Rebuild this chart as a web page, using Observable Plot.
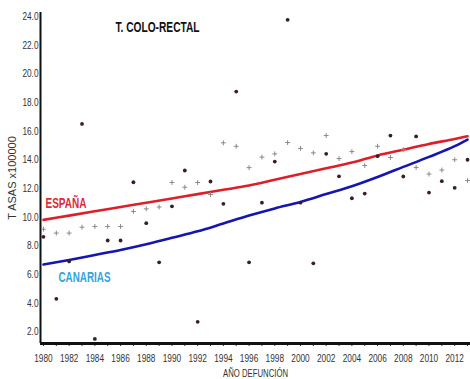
<!DOCTYPE html>
<html>
<head>
<meta charset="utf-8">
<script src="https://cdn.jsdelivr.net/npm/d3@7"></script>
<script src="https://cdn.jsdelivr.net/npm/@observablehq/plot@0.6"></script>
<style>
  html, body { margin: 0; padding: 0; background: #fff; }
  #chart svg { display: block; background: #fff; }
</style>
</head>
<body>
<div id="chart"></div>
<script>
// ---- data ----
const years = [1980,1981,1982,1983,1984,1985,1986,1987,1988,1989,1990,1991,1992,1993,1994,1995,1996,1997,1998,1999,2000,2001,2002,2003,2004,2005,2006,2007,2008,2009,2010,2011,2012,2013];
// Canarias observed rates (dark dots)
const canariasRates = [8.62,4.29,6.9,16.5,1.49,8.36,8.36,12.43,9.57,6.84,10.75,13.25,2.68,12.48,10.92,18.76,6.84,11.0,13.87,23.77,11.0,6.77,14.41,12.84,11.31,11.64,14.25,15.69,12.83,15.63,11.71,12.5,12.04,14.0];
// España observed rates (grey crosses)
const espanaRates = [9.15,8.88,8.88,9.29,9.34,9.34,9.34,10.39,10.57,10.7,12.41,12.08,12.41,11.57,15.18,14.94,13.45,14.18,14.41,15.2,14.79,14.48,15.69,14.08,14.57,13.6,14.94,14.16,14.7,13.46,13.0,13.28,14.0,12.55];
// Trend lines
const trendYears = [1980,1982,1984,1986,1988,1990,1992,1994,1996,1998,2000,2002,2004,2006,2008,2010,2012,2013];
const espanaTrend = [9.8,10.1,10.4,10.7,11.0,11.3,11.6,11.9,12.2,12.6,13.0,13.4,13.8,14.3,14.7,15.1,15.45,15.64];
const canariasTrend = [6.68,7.0,7.35,7.7,8.1,8.55,9.0,9.55,10.1,10.6,11.05,11.6,12.15,12.8,13.5,14.2,14.95,15.41];
// Axis ticks
const yTicks = [2,4,6,8,10,12,14,16,18,20,22,24];
const xTickLabels = [1980,1982,1984,1986,1988,1990,1992,1994,1996,1998,2000,2002,2004,2006,2008,2010,2012];
const titleText = "T. COLO-RECTAL";
const yLabel = "T ASAS x100000";
const xLabel = "AÑO DEFUNCIÓN";
const seriesNames = ["ESPAÑA", "CANARIAS"];

const xDomain = [1979.77, 2013.23];
const yDomain = [1.17, 24.28];

const canData = years.map((y, i) => ({year: y, v: canariasRates[i]}));
const espData = years.map((y, i) => ({year: y, v: espanaRates[i]}));
const espTrendData = trendYears.map((y, i) => ({year: y, v: espanaTrend[i]}));
const canTrendData = trendYears.map((y, i) => ({year: y, v: canariasTrend[i]}));

const sans = "'Liberation Sans', Arial, sans-serif";

const chart = Plot.plot({
  width: 470,
  height: 379,
  marginLeft: 40,
  marginRight: 0,
  marginTop: 12,
  marginBottom: 36,
  style: {fontFamily: sans, fontSize: "11px", color: "#333", background: "#fff"},
  x: {domain: xDomain},
  y: {domain: yDomain},
  marks: [
    // axes
    Plot.axisY({ticks: yTicks, tickFormat: d3.format(".1f"), tickSize: 0, tickPadding: 2, label: null, fontSize: 11.5, fill: "#333"}),
    Plot.axisX({ticks: years, tickSize: 3, tickFormat: () => "", label: null, stroke: "#333"}),
    Plot.axisX({ticks: xTickLabels, tickSize: 0, tickPadding: 10, tickFormat: d => String(d), label: null, fontSize: 11.5, fill: "#333"}),
    Plot.ruleX([xDomain[0]], {stroke: "#111", strokeWidth: 2}),
    Plot.ruleY([yDomain[0]], {stroke: "#111", strokeWidth: 3}),
    // trend lines
    Plot.line(espTrendData, {x: "year", y: "v", stroke: "#dc1f2b", strokeWidth: 2.6, curve: "monotone-x"}),
    Plot.line(canTrendData, {x: "year", y: "v", stroke: "#1515b0", strokeWidth: 2.6, curve: "monotone-x"}),
    // observed points
    Plot.dot(espData, {x: "year", y: "v", symbol: "plus", r: 1.7, stroke: "#8a8a8a", strokeWidth: 1}),
    Plot.dot(canData, {x: "year", y: "v", r: 1.9, fill: "#3a1e26", stroke: "none"}),
    // annotations
    Plot.text([titleText], {text: d => d, frameAnchor: "top-left", dx: 117, dy: 15, lineAnchor: "middle", textAnchor: "middle", fontSize: 15, fontWeight: "bold", fill: "#111"}),
    Plot.text([seriesNames[0]], {text: d => d, frameAnchor: "top-left", dx: 5, dy: 191, lineAnchor: "middle", textAnchor: "start", fontSize: 15, fontWeight: "bold", fill: "#e0283a"}),
    Plot.text([seriesNames[1]], {text: d => d, frameAnchor: "top-left", dx: 18, dy: 265, lineAnchor: "middle", textAnchor: "start", fontSize: 15, fontWeight: "bold", fill: "#35a3dc"}),
    Plot.text([yLabel], {text: d => d, frameAnchor: "left", dx: -28, dy: 0, rotate: -90, lineAnchor: "middle", textAnchor: "middle", fontSize: 11, fill: "#333"}),
    Plot.text([xLabel], {text: d => d, frameAnchor: "bottom", dx: 0, dy: 30, lineAnchor: "middle", textAnchor: "middle", fontSize: 11, fill: "#333"})
  ]
});
document.getElementById("chart").appendChild(chart);

// Condense the lettering to mimic the narrow typeface of the original
const targetWidths = {};
targetWidths[titleText] = 84;
targetWidths[seriesNames[0]] = 41;
targetWidths[seriesNames[1]] = 52;
targetWidths[xLabel] = 65;
chart.querySelectorAll("text").forEach(t => {
  const s = t.textContent;
  if (!s) return;
  let w = t.getComputedTextLength();
  if (!w) return;
  let target = null;
  if (s in targetWidths) target = targetWidths[s];
  else if (/^\d/.test(s)) target = w * 0.72;
  if (target != null) {
    t.setAttribute("textLength", target);
    t.setAttribute("lengthAdjust", "spacingAndGlyphs");
  }
});
</script>
</body>
</html>
